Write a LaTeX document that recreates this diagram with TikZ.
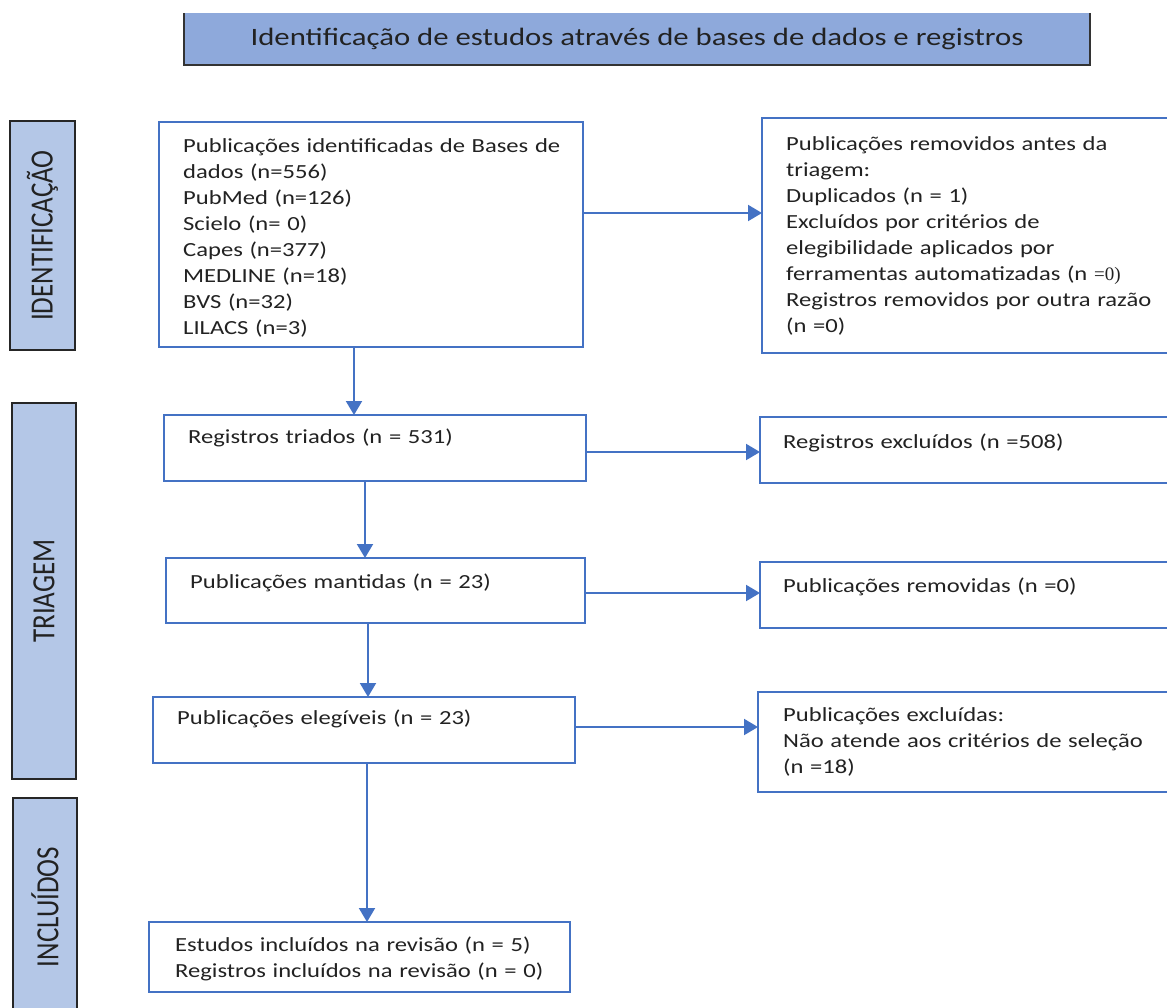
\documentclass[tikz,border=0pt]{standalone}
\usepackage{fontspec}
\setmainfont[FakeStretch=1.23]{Carlito}
\newfontfamily\plainfont{Carlito}
\newfontfamily\serifnum{Liberation Serif}
\usetikzlibrary{arrows.meta}
\definecolor{boxblue}{HTML}{4472C4}
\definecolor{sidefill}{HTML}{B4C7E7}
\definecolor{titlefill}{HTML}{8EA9DB}
\definecolor{txtcol}{HTML}{222222}
\tikzset{
  box/.style={draw=boxblue, line width=2.5pt, fill=white, inner sep=0pt, outer sep=0pt, anchor=north west},
  side/.style={draw=black!85, line width=2.5pt, fill=sidefill, inner sep=0pt, outer sep=0pt, anchor=north west, text=txtcol},
  txt/.style={anchor=base west, inner sep=0pt, text width=420pt, align=left, font=\fontsize{20}{26}\selectfont, text=txtcol},
  arr/.style={draw=boxblue, line width=2pt, -{Triangle[length=14pt,width=16pt]}},
}
\begin{document}
\begin{tikzpicture}[x=1pt,y=-1pt]
\useasboundingbox (0,0) rectangle (1167,1007);
\clip (0,0) rectangle (1167,1007);

% title
\node[fill=titlefill, minimum width=906pt, minimum height=52pt, inner sep=0pt, outer sep=0pt, anchor=north west, text=txtcol, font=\fontsize{25}{26}\selectfont] (title) at (184,13) {Identificação de estudos através de bases de dados e registros};
\draw[black!80, line width=2.5pt] (title.north west) -- (title.south west) -- (title.south east) -- (title.north east);

% side labels
\node[side, minimum width=65pt, minimum height=229pt] (s1) at (10,121) {\rotatebox{90}{\scalebox{1}[1.2]{\plainfont\fontsize{27}{27}\selectfont IDENTIFICAÇÃO}}};
\node[side, minimum width=64pt, minimum height=376pt] (s2) at (12,403) {\rotatebox{90}{\scalebox{1}[1.2]{\plainfont\fontsize{27}{27}\selectfont TRIAGEM}}};
\node[side, minimum width=64pt, minimum height=218pt] (s3) at (13,798) {\rotatebox{90}{\scalebox{1}[1.2]{\plainfont\fontsize{27}{27}\selectfont INCLUÍDOS}}};

% left boxes
\node[box, minimum width=424pt, minimum height=225pt] (b1) at (159,122) {};
\node[box, minimum width=422pt, minimum height=66pt] (b2) at (164,415) {};
\node[box, minimum width=419pt, minimum height=65pt] (b3) at (166,558) {};
\node[box, minimum width=422pt, minimum height=66pt] (b4) at (153,697) {};
\node[box, minimum width=421pt, minimum height=70pt] (b5) at (149,922) {};

% right boxes
\node[box, minimum width=430pt, minimum height=235pt] (r1) at (762,118) {};
\node[box, minimum width=430pt, minimum height=66pt] (r2) at (760,417) {};
\node[box, minimum width=430pt, minimum height=66pt] (r3) at (760,562) {};
\node[box, minimum width=430pt, minimum height=100pt] (r4) at (758,692) {};

% texts
\node[txt] (t1) at (183,152) {Publicações identificadas de Bases de\\dados (n=556)\\PubMed (n=126)\\Scielo (n= 0)\\Capes (n=377)\\MEDLINE (n=18)\\BVS (n=32)\\LILACS (n=3)};
\node[txt] (t2) at (188,443) {Registros triados (n = 531)};
\node[txt] (t3) at (190,588) {Publicações mantidas (n = 23)};
\node[txt] (t4) at (177,724) {Publicações elegíveis (n = 23)};
\node[txt] (t5) at (175,951) {Estudos incluídos na revisão (n = 5)\\Registros incluídos na revisão (n = 0)};

\node[txt] (u1) at (786,150) {Publicações removidos antes da\\triagem:\\Duplicados (n = 1)\\Excluídos por critérios de\\elegibilidade aplicados por\\ferramentas automatizadas (n {\serifnum\fontsize{19}{26}\selectfont=0)}\\Registros removidos por outra razão\\(n =0)};
\node[txt] (u2) at (783,448) {Registros excluídos (n =508)};
\node[txt] (u3) at (783,592) {Publicações removidas (n =0)};
\node[txt] (u4) at (783,721) {Publicações excluídas:\\Não atende aos critérios de seleção\\(n =18)};

% connector guides
\coordinate (v1) at (354,0);
\coordinate (v2) at (365,0);
\coordinate (v3) at (368,0);
\coordinate (v4) at (367,0);
\coordinate (h1) at (0,213);
\coordinate (h2) at (0,452);
\coordinate (h3) at (0,593);
\coordinate (h4) at (0,727);

\draw[arr] (b1.south -| v1) -- (b2.north -| v1);
\draw[arr] (b2.south -| v2) -- (b3.north -| v2);
\draw[arr] (b3.south -| v3) -- (b4.north -| v3);
\draw[arr] (b4.south -| v4) -- (b5.north -| v4);

\draw[arr] (b1.east |- h1) -- (r1.west |- h1);
\draw[arr] (b2.east |- h2) -- (r2.west |- h2);
\draw[arr] (b3.east |- h3) -- (r3.west |- h3);
\draw[arr] (b4.east |- h4) -- (r4.west |- h4);
\end{tikzpicture}
\end{document}
